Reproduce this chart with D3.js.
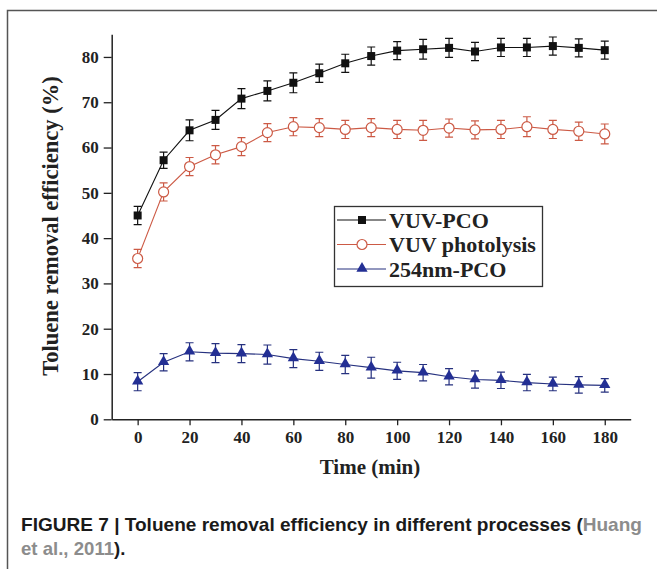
<!DOCTYPE html>
<html>
<head>
<meta charset="utf-8">
<script src="https://cdn.jsdelivr.net/npm/d3@7"></script>
<style>
  body { margin: 0; background: #fff; }
  svg { display: block; }
</style>
</head>
<body>
<script>
var width = 657
var height = 569

// data
var time = [0, 10, 20, 30, 40, 50, 60, 70, 80, 90, 100, 110, 120, 130, 140, 150, 160, 170, 180]
var vuvPco = [45.0, 57.2, 63.8, 66.1, 70.8, 72.5, 74.3, 76.4, 78.6, 80.2, 81.4, 81.7, 82.0, 81.2, 82.1, 82.1, 82.4, 82.0, 81.5]
var vuvPcoErr = [2.0, 1.8, 2.3, 2.1, 2.2, 2.2, 2.2, 2.0, 2.0, 2.0, 2.0, 2.2, 2.1, 2.0, 2.0, 2.0, 2.0, 2.0, 2.0]
var vuvPhoto = [35.5, 50.2, 55.8, 58.4, 60.2, 63.3, 64.6, 64.4, 64.0, 64.4, 64.0, 63.8, 64.3, 63.9, 64.0, 64.6, 64.0, 63.6, 63.0]
var vuvPhotoErr = [2.0, 2.0, 2.0, 2.0, 2.0, 2.0, 2.0, 2.0, 2.0, 2.0, 2.0, 2.2, 2.0, 2.0, 2.0, 2.2, 2.0, 2.0, 2.2]
var pco254 = [8.3, 12.6, 14.9, 14.6, 14.5, 14.3, 13.4, 12.8, 12.1, 11.4, 10.7, 10.3, 9.4, 8.8, 8.6, 8.1, 7.8, 7.6, 7.5]
var pco254Err = [2.0, 1.9, 2.0, 2.1, 2.0, 2.1, 2.0, 2.0, 2.0, 2.3, 1.9, 1.8, 1.8, 1.9, 1.8, 1.8, 1.5, 1.8, 1.5]

var xMajor = d3.range(0, 181, 20)
var xMinor = d3.range(-10, 191, 10)
var yMajor = d3.range(0, 81, 10)
var yMinor = d3.range(5, 86, 10)

var seriesNames = ["VUV-PCO", "VUV photolysis", "254nm-PCO"]

var series = [
    { name: seriesNames[0], values: vuvPco, err: vuvPcoErr, color: "#111111", fill: "#111111", shape: "square" },
    { name: seriesNames[1], values: vuvPhoto, err: vuvPhotoErr, color: "#cc5a45", fill: "#ffffff", shape: "circle" },
    { name: seriesNames[2], values: pco254, err: pco254Err, color: "#26317f", fill: "#232f94", shape: "triangle" }
]

var svg = d3.select("body").append("svg")
    .attr("width", width)
    .attr("height", height)

// figure frame
svg.append("path")
    .attr("d", "M7.5," + height + "V10.5H" + width)
    .attr("fill", "none")
    .attr("stroke", "#555")
    .attr("stroke-width", 1.5)

var x = d3.scaleLinear().domain([-10, 190]).range([111.7, 630.7])
var y = d3.scaleLinear().domain([0, 85]).range([419.3, 34.3])

var serif = "'Liberation Serif', 'Times New Roman', serif"

// axes
var gx = svg.append("g").attr("transform", "translate(0," + y(0) + ")")
gx.call(d3.axisBottom(x).tickValues(xMinor).tickSize(5).tickFormat("").tickSizeOuter(0))
gx.call(d3.axisBottom(x).tickValues(xMajor).tickSize(6).tickPadding(6).tickSizeOuter(0))

var gy = svg.append("g").attr("transform", "translate(" + x(-10) + ",0)")
gy.call(d3.axisLeft(y).tickValues(yMinor).tickSize(4).tickFormat("").tickSizeOuter(0))
gy.call(d3.axisLeft(y).tickValues(yMajor).tickSize(8).tickPadding(5).tickSizeOuter(0))

svg.selectAll(".domain").attr("stroke", "#222").attr("stroke-width", 1.5)
svg.selectAll(".tick line").attr("stroke", "#222").attr("stroke-width", 1.3)
svg.selectAll(".tick text")
    .style("font-family", serif)
    .style("font-weight", "bold")
    .style("font-size", "17px")
    .attr("fill", "#222")

// axis titles
svg.append("text")
    .attr("transform", "translate(58,226) rotate(-90)")
    .attr("text-anchor", "middle")
    .style("font-family", serif)
    .style("font-weight", "bold")
    .style("font-size", "22.5px")
    .attr("fill", "#222")
    .text("Toluene removal efficiency (%)")

svg.append("text")
    .attr("x", 370)
    .attr("y", 474)
    .attr("text-anchor", "middle")
    .style("font-family", serif)
    .style("font-weight", "bold")
    .style("font-size", "21px")
    .attr("fill", "#222")
    .text("Time (min)")

function drawMarker(g, s, cx, cy) {
    if (s.shape === "square") {
        g.append("rect")
            .attr("x", cx - 4).attr("y", cy - 4)
            .attr("width", 8).attr("height", 8)
            .attr("fill", s.fill)
    } else if (s.shape === "circle") {
        g.append("circle")
            .attr("cx", cx).attr("cy", cy).attr("r", 5)
            .attr("fill", s.fill)
            .attr("stroke", s.color)
            .attr("stroke-width", 1.2)
    } else {
        g.append("path")
            .attr("d", d3.symbol().type(d3.symbolTriangle).size(55)())
            .attr("transform", "translate(" + cx + "," + (cy - 0.5) + ")")
            .attr("fill", s.fill)
    }
}

var line = d3.line()
    .x(function(d) { return x(d[0]); })
    .y(function(d) { return y(d[1]); })

series.forEach(function(s) {
    var g = svg.append("g")
    var pts = time.map(function(t, i) { return [t, s.values[i]]; })

    g.append("path")
        .datum(pts)
        .attr("d", line)
        .attr("fill", "none")
        .attr("stroke", s.color)
        .attr("stroke-width", 1.1)

    // error bars
    time.forEach(function(t, i) {
        var cx = x(t)
        var y1 = y(s.values[i] + s.err[i])
        var y2 = y(s.values[i] - s.err[i])
        g.append("path")
            .attr("d", "M" + cx + "," + y1 + "V" + y2 +
                "M" + (cx - 4) + "," + y1 + "H" + (cx + 4) +
                "M" + (cx - 4) + "," + y2 + "H" + (cx + 4))
            .attr("fill", "none")
            .attr("stroke", s.color)
            .attr("stroke-width", 1.2)
    })

    time.forEach(function(t, i) {
        drawMarker(g, s, x(t), y(s.values[i]))
    })
})

// legend
var lg = svg.append("g")
lg.append("rect")
    .attr("x", 334.5).attr("y", 206.5)
    .attr("width", 208).attr("height", 80)
    .attr("fill", "#fff")
    .attr("stroke", "#333")
    .attr("stroke-width", 1.3)

series.forEach(function(s, i) {
    var ly = 220 + i * 24.5
    lg.append("line")
        .attr("x1", 337).attr("x2", 386)
        .attr("y1", ly).attr("y2", ly)
        .attr("stroke", s.color)
        .attr("stroke-width", 1.1)
    drawMarker(lg, s, 362, ly)
    lg.append("text")
        .attr("x", 389)
        .attr("y", ly + 7.5)
        .style("font-family", serif)
        .style("font-weight", "bold")
        .style("font-size", "22px")
        .attr("fill", "#222")
        .text(s.name)
})

// caption
var sans = "'Liberation Sans', Arial, sans-serif"
var cap1 = svg.append("text")
    .attr("x", 21)
    .attr("y", 531)
    .attr("textLength", 621)
    .attr("lengthAdjust", "spacingAndGlyphs")
    .style("font-family", sans)
    .style("font-weight", "bold")
    .style("font-size", "18.6px")
    .attr("fill", "#1a1a1a")
cap1.append("tspan").text("FIGURE 7 | Toluene removal efficiency in different processes (")
cap1.append("tspan").attr("fill", "#8c8c8c").text("Huang")

var cap2 = svg.append("text")
    .attr("x", 21)
    .attr("y", 555)
    .style("font-family", sans)
    .style("font-weight", "bold")
    .style("font-size", "18.6px")
    .attr("fill", "#1a1a1a")
cap2.append("tspan").attr("fill", "#8c8c8c").text("et al., 2011")
cap2.append("tspan").text(").")
</script>
</body>
</html>
